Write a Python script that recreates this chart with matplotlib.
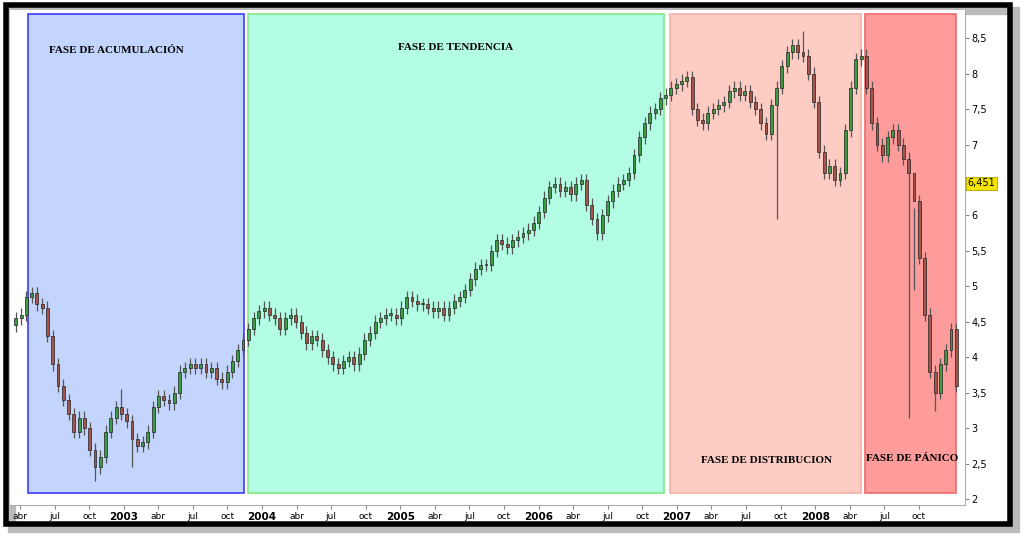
import matplotlib
matplotlib.use("Agg")
import matplotlib.pyplot as plt
from matplotlib.patches import Rectangle
import numpy as np

closes = [4.55, 4.6, 4.85, 4.9, 4.75, 4.7, 4.3, 3.9, 3.6,
          3.4, 3.2, 2.95, 3.15, 3.0, 2.7, 2.45, 2.6,
          2.95, 3.15, 3.3, 3.2, 3.1, 2.85, 2.75,
          2.8, 2.95, 3.3, 3.45, 3.4, 3.35, 3.5, 3.8,
          3.85, 3.9, 3.85, 3.9, 3.8, 3.85, 3.7,
          3.65, 3.8, 3.95, 4.1, 4.25, 4.4, 4.55, 4.65,
          4.7, 4.6, 4.55, 4.4, 4.55, 4.6, 4.5,
          4.35, 4.2, 4.3, 4.25, 4.1, 4.0, 3.9, 3.85,
          3.95, 4.0, 3.9, 4.05, 4.25, 4.35, 4.5,
          4.55, 4.6, 4.6, 4.55, 4.7, 4.85, 4.8, 4.75,
          4.75, 4.7, 4.65, 4.7, 4.6, 4.7, 4.8,
          4.85, 4.95, 5.1, 5.25, 5.3, 5.3, 5.5, 5.65,
          5.6, 5.55, 5.65, 5.7, 5.75, 5.8, 5.9,
          6.05, 6.25, 6.4, 6.45, 6.35, 6.4, 6.3, 6.45,
          6.5, 6.15, 5.95, 5.75, 6.0, 6.2, 6.35,
          6.45, 6.5, 6.6, 6.85, 7.1, 7.3, 7.45, 7.5,
          7.65, 7.7, 7.8, 7.85, 7.9, 7.95, 7.5,
          7.35, 7.3, 7.45, 7.5, 7.55, 7.6, 7.75, 7.8,
          7.7, 7.75, 7.6, 7.5, 7.3, 7.15, 7.55,
          7.8, 8.1, 8.3, 8.4, 8.3, 8.25, 8.0, 7.6,
          6.9, 6.6, 6.7, 6.5, 6.6, 7.2, 7.8,
          8.2, 8.25, 7.8, 7.3, 7.0, 6.85, 7.1, 7.2,
          7.0, 6.8, 6.6, 6.2, 5.4, 4.6, 3.8,
          3.5, 3.9, 4.1, 4.4, 3.6]
first_open = 4.45
extra_lows = {15: 2.25, 22: 2.45, 144: 5.95, 169: 3.15, 174: 3.25}
extra_highs = {20: 3.55, 149: 8.6, 170: 4.95}

phases = [("FASE DE ACUMULACIÓN", 2002.31, 2003.87, "#c3d5fd", "#3c3cff", 2002.95, 8.33),
          ("FASE DE TENDENCIA", 2003.90, 2006.91, "#b3fde4", "#80e880", 2005.4, 8.37),
          ("FASE DE DISTRIBUCION", 2006.95, 2008.33, "#fdcdc4", "#f3b2a7", 2007.65, 2.55),
          ("FASE DE PÁNICO", 2008.36, 2009.02, "#fe9b9b", "#f06a6a", 2008.70, 2.57)]

years = [2003, 2004, 2005, 2006, 2007, 2008]
yticks = [2, 2.5, 3, 3.5, 4, 4.5, 5, 5.5, 6, 7, 7.5, 8, 8.5]
last_label = "6,451"
last_label_y = 6.451

fig = plt.figure(figsize=(10.24, 5.40), dpi=100)
ax = fig.add_axes([0.010, 0.065, 0.932, 0.917])
ax.set_xlim(2002.18, 2009.08)
ax.set_ylim(1.92, 8.9)

for name, x0, x1, fc, ec, tx, ty in phases:
    ax.add_patch(Rectangle((x0, 2.09), x1 - x0, 8.84 - 2.09, facecolor=fc, edgecolor=ec, lw=1.2, zorder=1))
    ax.text(tx, ty, name, ha="center", va="center", fontsize=8, fontweight="bold",
            family="Liberation Serif", zorder=5)

start, step = 2002.22, 0.0382
opens = [first_open] + closes[:-1]
w = step * 0.55
for i, (o, c) in enumerate(zip(opens, closes)):
    x = start + i * step
    hi = extra_highs.get(i, max(o, c) + 0.09)
    lo = extra_lows.get(i, min(o, c) - 0.09)
    ax.vlines(x, lo, hi, color="#555555", lw=0.9, zorder=3)
    col = "#3f9a44" if c >= o else "#a5564c"
    ax.add_patch(Rectangle((x - w / 2, min(o, c)), w, max(abs(c - o), 0.02),
                           facecolor=col, edgecolor="#222222", lw=0.5, zorder=4))

ax.yaxis.tick_right()
ax.set_yticks(yticks)
ax.set_yticklabels([f"{v:g}".replace(".", ",") for v in yticks], fontsize=7)
xt, xl = [], []
for y in [2002] + years:
    if y > 2002:
        xt.append(y); xl.append(str(y))
    for off, m in [(0.25, "abr"), (0.5, "jul"), (0.75, "oct")]:
        if y + off < 2009.05:
            xt.append(y + off); xl.append(m)
ax.set_xticks(xt)
labs = ax.set_xticklabels(xl, fontsize=6.5)
for t in labs:
    if t.get_text().isdigit():
        t.set_fontweight("bold"); t.set_fontsize(7.5)
ax.tick_params(length=3, color="#888888", pad=2)
for s in ["top", "left"]:
    ax.spines[s].set_visible(False)
for s in ["right", "bottom"]:
    ax.spines[s].set_color("#aaaaaa")
ax.text(1.003, (last_label_y - 1.92) / (8.9 - 1.92), last_label, transform=ax.transAxes,
        fontsize=7, va="center", ha="left",
        bbox=dict(boxstyle="square,pad=0.2", fc="#f5e400", ec="#b0a000", lw=0.6))

fig.patches.append(Rectangle((0.012, 0.02), 0.98, 0.96, transform=fig.transFigure,
                             fill=False, ec="#bbbbbb", lw=6, zorder=-1))
fig.patches.append(Rectangle((0.006, 0.03), 0.98, 0.96, transform=fig.transFigure,
                             fill=False, ec="black", lw=4, zorder=10))
fig.savefig("out.png", dpi=100)
